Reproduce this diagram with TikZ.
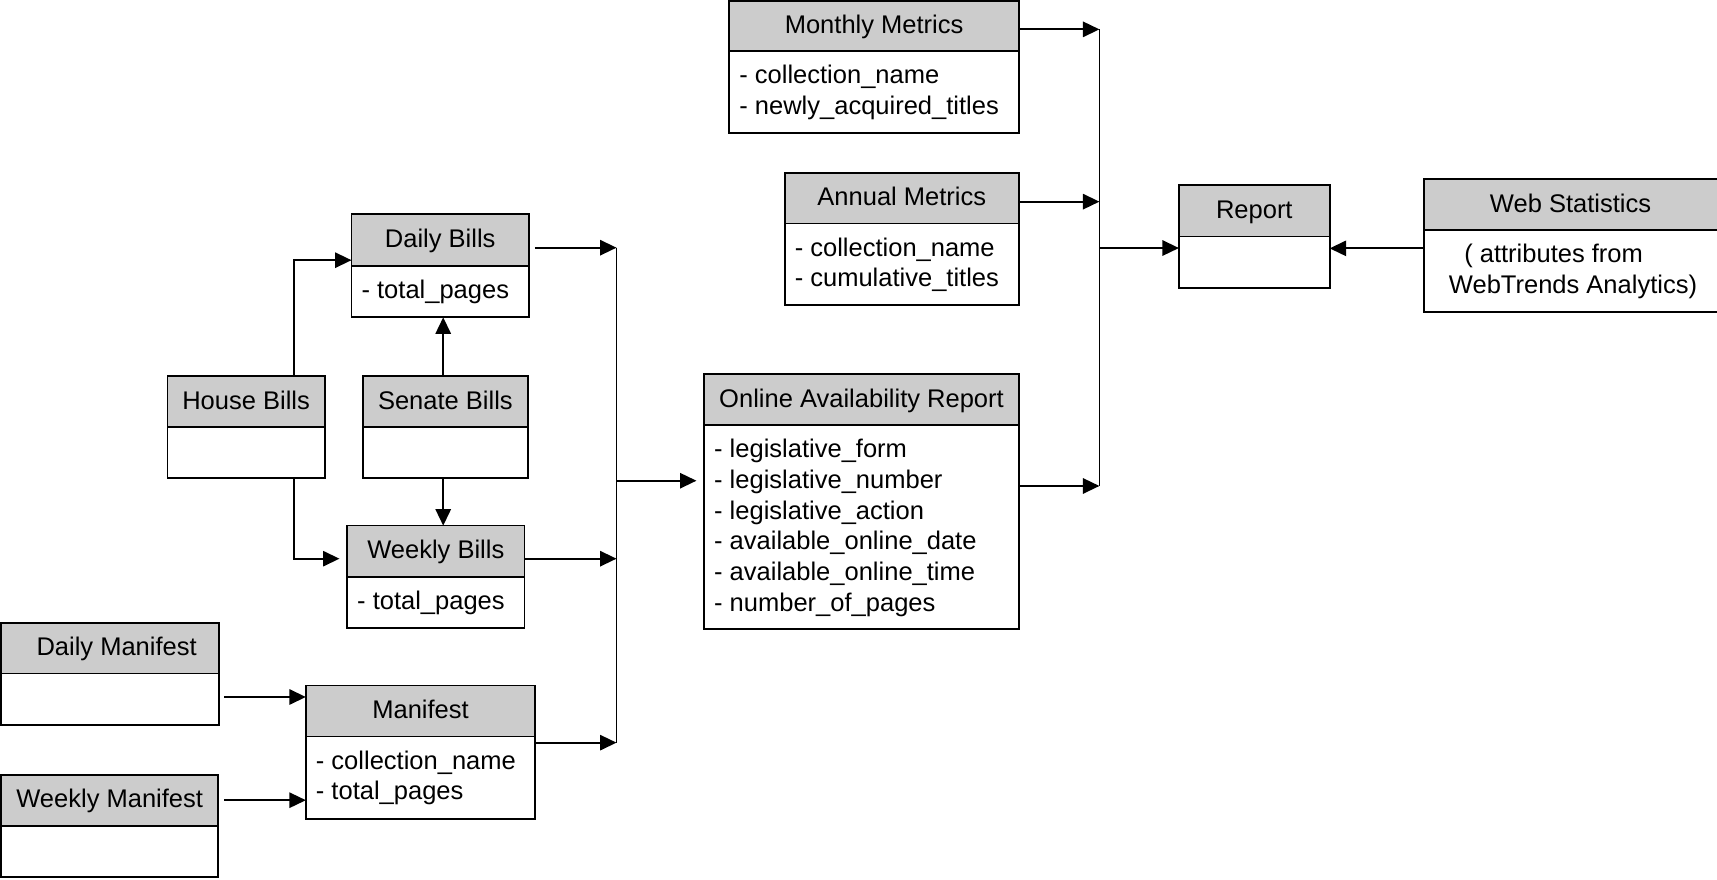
\documentclass[tikz,border=0pt]{standalone}
\usepackage{fontspec}
\setmainfont{Liberation Sans}
\usetikzlibrary{arrows.meta}
\definecolor{hdrgray}{RGB}{204,204,204}
\newcommand\ls{\rule[-7.5pt]{0pt}{28pt}}
\tikzset{
  boxline/.style={draw=black, line width=1.6pt},
  hdr/.style={boxline, fill=hdrgray, inner sep=0pt, outer sep=0pt, anchor=north west,
    font=\fontsize{23.3}{28}\selectfont, text height=16.7pt, text depth=2.5pt},
  bdy/.style={boxline, fill=white, inner sep=0pt, outer sep=0pt, anchor=north west},
  btxt/.style={inner sep=0pt, anchor=west, align=left, font=\fontsize{23.3}{28}\selectfont},
  arr/.style={line width=1.6pt, -{Triangle[length=15pt,width=14pt]}},
  conn/.style={line width=1.6pt},
}
% #1 name, #2 x1, #3 x2, #4 ytop, #5 ysep, #6 ybot, #7 title, #8 body
\newcommand\umlbox[8]{%
  \node[hdr, minimum width={(#3-#2)*1pt}, minimum height={(#5-#4)*1pt}] (#1-h) at (#2,#4) {#7};
  \node[bdy, minimum width={(#3-#2)*1pt}, minimum height={(#6-#5)*1pt}] (#1-b) at (#2,#5) {};
  \node[btxt] (#1-t) at ({#2+9},{(#5+#6)/2}) {#8};
}
\begin{document}
\begin{tikzpicture}[x=1pt,y=-1pt]
\useasboundingbox (0,0) rectangle (1568,803);
\fill[white] (0,0) rectangle (1568,803);

\umlbox{mon}{666}{930.5}{1}{46.6}{121.5}{Monthly Metrics}{\ls- collection\_name\\\ls- newly\_acquired\_titles}
\umlbox{ann}{716.6}{930.5}{157.7}{204}{278.8}{Annual Metrics}{\ls- collection\_name\\\ls- cumulative\_titles}
\umlbox{rep}{1076.6}{1214.3}{169}{216}{262.7}{Report}{}
\umlbox{web}{1300.5}{1590}{163.5}{210}{285.2}{\hspace*{-22pt}Web Statistics}{}
\node[btxt] (web-t2) at (1323,247.6) {\ls\hspace*{14pt}( attributes from\\\ls WebTrends Analytics)};
\umlbox{dbill}{321}{483}{195.7}{242.6}{289.8}{Daily Bills}{\ls- total\_pages}
\umlbox{house}{153}{296.5}{343.1}{390}{436.8}{House Bills}{}
\umlbox{senate}{331.5}{482}{343.1}{390}{436.8}{Senate Bills}{}
\umlbox{wbill}{317}{479}{480}{526.6}{573.2}{Weekly Bills}{\ls- total\_pages}
\umlbox{dman}{1}{200}{568.7}{615}{662}{\hspace*{12pt}Daily Manifest}{}
\umlbox{wman}{1}{199.4}{707.5}{754}{800.6}{Weekly Manifest}{}
\umlbox{man}{279.3}{488.8}{626}{672.5}{747.6}{Manifest}{\ls- collection\_name\\\ls- total\_pages}
\umlbox{oar}{643}{930.5}{341.8}{388.4}{574.7}{Online Availability Report}{\ls- legislative\_form\\\ls- legislative\_number\\\ls- legislative\_action\\\ls- available\_online\_date\\\ls- available\_online\_time\\\ls- number\_of\_pages}

% left bus
\coordinate (b1t) at (563,226.2);
\coordinate (b1b) at (563,678.2);
\coordinate (b1m) at (563,439);
\draw[conn] (b1t) -- (b1b);
% right bus
\coordinate (b2t) at (1004,26.8);
\coordinate (b2b) at (1004,443.8);
\coordinate (b2m) at (1004,226.5);
\draw[conn] (b2t) -- (b2b);

% house / senate
\draw[arr] ([xshift=-28.2pt]house-h.north east) |- ([yshift=5pt]dbill-b.north west);
\draw[arr, shorten >=7pt] ([xshift=-28.2pt]house-b.south east) |- ([yshift=16.4pt]wbill-b.north west);
\draw[arr] ([xshift=-2pt]senate-h.north) -- ([xshift=-2pt]senate-h.north |- dbill-b.south);
\draw[arr] ([xshift=-2pt]senate-b.south) -- ([xshift=-2pt]senate-b.south |- wbill-h.north);

% to left bus
\draw[arr, shorten <=5.5pt] ([yshift=16.4pt]dbill-b.north east) -- ([yshift=16.4pt]dbill-b.north east -| b1t);
\draw[arr] ([yshift=16.4pt]wbill-b.north east) -- ([yshift=16.4pt]wbill-b.north east -| b1t);
\draw[arr] ([yshift=-5.7pt]man-b.north east) -- ([yshift=-5.7pt]man-b.north east -| b1t);
\draw[arr, shorten >=7pt] (b1m) -- (b1m -| oar-b.west);

% manifests
\draw[arr, shorten <=5pt] ([yshift=2pt]dman-b.east) -- ([yshift=2pt]dman-b.east -| man-b.west);
\draw[arr, shorten <=5.6pt] (wman-h.east) -- (wman-h.east -| man-b.west);

% to right bus
\draw[arr] ([yshift=-3pt]mon-h.east) -- ([yshift=-3pt]mon-h.east -| b2t);
\draw[arr] ([yshift=-3.3pt]ann-h.east) -- ([yshift=-3.3pt]ann-h.east -| b2t);
\draw[arr] ([yshift=-55.4pt]oar-b.north east) -- ([yshift=-55.4pt]oar-b.north east -| b2t);
\draw[arr] (b2m) -- (b2m -| rep-b.west);
\draw[arr] ([yshift=-16.8pt]web-b.north west) -- ([yshift=-16.8pt]web-b.north west -| rep-b.east);
\end{tikzpicture}
\end{document}
